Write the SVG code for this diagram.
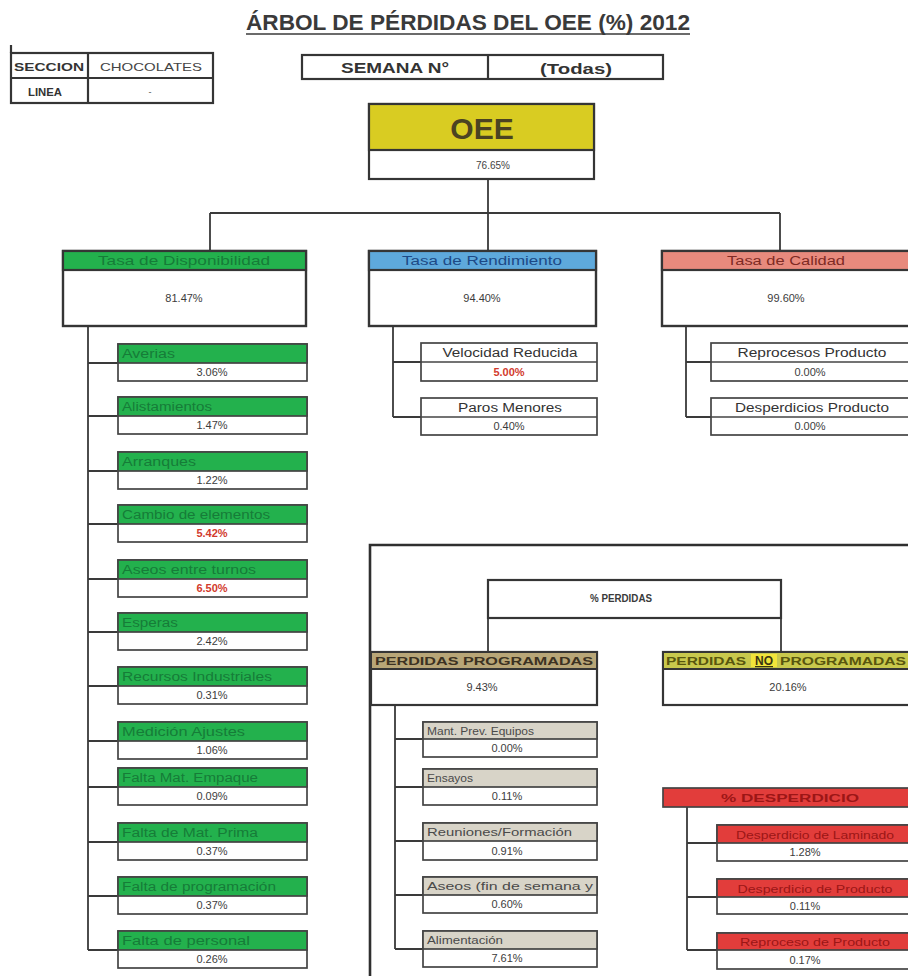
<svg xmlns="http://www.w3.org/2000/svg" width="908" height="976" viewBox="0 0 908 976">
<style>
  text { font-family: "Liberation Sans", Arial, sans-serif; }
  .frame { fill: none; stroke: #353535; stroke-width: 2.2; }
  .sub { fill: #fff; stroke: #444; stroke-width: 1.7; }
  .wire { fill: none; stroke: #3a3a3a; stroke-width: 1.8; }
  .val { font-size: 11px; fill: #3c3c3c; text-anchor: middle; }
  .valred { font-size: 11px; fill: #d23a2c; text-anchor: middle; font-weight: bold; }
  .g { fill: #23b14d; stroke: #444; stroke-width: 1.7; }
  .gt { font-size: 12px; fill: #167c38; }
  .b { fill: #5ea9dc; stroke: #353535; stroke-width: 2.2; }
  .s { fill: #e88a7d; stroke: #353535; stroke-width: 2.2; }
  .tan { fill: #b8a677; stroke: #353535; stroke-width: 2; }
  .yg { fill: #c8c84c; stroke: #353535; stroke-width: 2; }
  .gray { fill: #d8d4c8; stroke: #444; stroke-width: 1.7; }
  .rd { fill: #e23d3b; stroke: #444; stroke-width: 1.7; }
  .rt { font-size: 11px; fill: #9c1616; text-anchor: middle; }
  .pt { font-size: 11px; fill: #4a4a4a; }
  .ct { font-size: 12px; fill: #333; text-anchor: middle; }
</style>

<!-- heading -->
<g id="title">
  <text x="468" y="30" font-size="22" font-weight="bold" fill="#3a3a3a" text-anchor="middle" textLength="444" lengthAdjust="spacingAndGlyphs">ÁRBOL DE PÉRDIDAS DEL OEE (%) 2012</text>
  <line x1="246" y1="34" x2="690" y2="34" stroke="#3a3a3a" stroke-width="1.6"/>
</g>

<!-- section / line table -->
<g id="seccion">
  <rect x="11" y="53" width="202" height="50" class="frame"/>
  <line x1="11" y1="78" x2="213" y2="78" class="frame"/>
  <line x1="88" y1="53" x2="88" y2="103" class="frame"/>
  <line x1="11" y1="45" x2="11" y2="53" class="frame"/>
  <text x="49" y="71" font-size="11" font-weight="bold" fill="#333" text-anchor="middle" textLength="70" lengthAdjust="spacingAndGlyphs">SECCION</text>
  <text x="151" y="71" font-size="11" fill="#444" text-anchor="middle" textLength="102" lengthAdjust="spacingAndGlyphs">CHOCOLATES</text>
  <text x="45" y="96" font-size="11" font-weight="bold" fill="#333" text-anchor="middle" textLength="34" lengthAdjust="spacingAndGlyphs">LINEA</text>
  <text x="150" y="95" font-size="9" fill="#555" text-anchor="middle">-</text>
</g>

<!-- week selector -->
<g id="semana">
  <rect x="302" y="55" width="361" height="24" class="frame"/>
  <line x1="488" y1="55" x2="488" y2="79" class="frame"/>
  <text x="395" y="73" font-size="14" font-weight="bold" fill="#333" text-anchor="middle" textLength="108" lengthAdjust="spacingAndGlyphs">SEMANA N°</text>
  <text x="576" y="74" font-size="15" font-weight="bold" fill="#333" text-anchor="middle" textLength="72" lengthAdjust="spacingAndGlyphs">(Todas)</text>
</g>

<!-- connectors -->
<g id="connectors">
  <path class="wire" d="M488 179 V213 M210 213 H780 M210 213 V251 M488 213 V251 M780 213 V251"/>
  <path class="wire" d="M88 326 V950 M88 363 H118 M88 416 H118 M88 471 H118 M88 524 H118 M88 579 H118 M88 632 H118 M88 686 H118 M88 741 H118 M88 787 H118 M88 842 H118 M88 896 H118 M88 950 H118"/>
  <path class="wire" d="M393 326 V417 M393 362 H421 M393 417 H421"/>
  <path class="wire" d="M686 327 V417 M686 362 H711 M686 417 H711"/>
  <path class="wire" d="M488 618 V652 M781 618 V652"/>
  <path class="wire" d="M395 705 V949 M395 739 H423 M395 787 H423 M395 841 H423 M395 895 H423 M395 949 H423"/>
  <path class="wire" d="M687 807 V950 M687 843 H717 M687 897 H717 M687 950 H717"/>
</g>

<!-- OEE -->
<g id="oee">
  <rect x="369" y="104" width="225" height="75" fill="#fff" stroke="#353535" stroke-width="2.2"/>
  <rect x="369" y="104" width="225" height="46" fill="#d9cc22" stroke="#353535" stroke-width="2.2"/>
  <text x="482" y="139" font-size="30" font-weight="bold" fill="#4b4322" text-anchor="middle">OEE</text>
  <text x="493" y="169" font-size="10" fill="#444" text-anchor="middle">76.65%</text>
</g>

<!-- level 2 -->
<g id="disponibilidad">
  <rect x="63" y="251" width="243" height="75" fill="#fff" stroke="#353535" stroke-width="2.4"/>
  <rect x="63" y="251" width="243" height="19" fill="#23b14d" stroke="#353535" stroke-width="2.2"/>
  <text x="184" y="265" class="gt" text-anchor="middle" textLength="172" lengthAdjust="spacingAndGlyphs">Tasa de Disponibilidad</text>
  <text x="184" y="302" class="val">81.47%</text>
</g>
<g id="rendimiento">
  <rect x="369" y="251" width="227" height="75" fill="#fff" stroke="#353535" stroke-width="2.4"/>
  <rect x="369" y="251" width="227" height="19" class="b"/>
  <text x="482" y="265" font-size="12" fill="#1d4a86" text-anchor="middle" textLength="160" lengthAdjust="spacingAndGlyphs">Tasa de Rendimiento</text>
  <text x="482" y="302" class="val">94.40%</text>
</g>
<g id="calidad">
  <rect x="662" y="251" width="252" height="75" fill="#fff" stroke="#353535" stroke-width="2.4"/>
  <rect x="662" y="251" width="252" height="19" class="s"/>
  <text x="786" y="265" font-size="12" fill="#7e2a24" text-anchor="middle" textLength="118" lengthAdjust="spacingAndGlyphs">Tasa de Calidad</text>
  <text x="786" y="302" class="val">99.60%</text>
</g>

<!-- availability losses -->
<g id="averias"><rect x="118" y="344" width="189" height="37" class="sub"/><rect x="118" y="344" width="189" height="19" class="g"/><text x="122" y="358" class="gt" textLength="53" lengthAdjust="spacingAndGlyphs">Averias</text><text x="212" y="376" class="val">3.06%</text></g>
<g id="alistamientos"><rect x="118" y="397" width="189" height="37" class="sub"/><rect x="118" y="397" width="189" height="19" class="g"/><text x="122" y="411" class="gt" textLength="90" lengthAdjust="spacingAndGlyphs">Alistamientos</text><text x="212" y="429" class="val">1.47%</text></g>
<g id="arranques"><rect x="118" y="452" width="189" height="37" class="sub"/><rect x="118" y="452" width="189" height="19" class="g"/><text x="122" y="466" class="gt" textLength="74" lengthAdjust="spacingAndGlyphs">Arranques</text><text x="212" y="484" class="val">1.22%</text></g>
<g id="cambio"><rect x="118" y="505" width="189" height="37" class="sub"/><rect x="118" y="505" width="189" height="19" class="g"/><text x="122" y="519" class="gt" textLength="148" lengthAdjust="spacingAndGlyphs">Cambio de elementos</text><text x="212" y="537" class="valred">5.42%</text></g>
<g id="aseos-turnos"><rect x="118" y="560" width="189" height="37" class="sub"/><rect x="118" y="560" width="189" height="19" class="g"/><text x="122" y="574" class="gt" textLength="134" lengthAdjust="spacingAndGlyphs">Aseos entre turnos</text><text x="212" y="592" class="valred">6.50%</text></g>
<g id="esperas"><rect x="118" y="613" width="189" height="37" class="sub"/><rect x="118" y="613" width="189" height="19" class="g"/><text x="122" y="627" class="gt" textLength="56" lengthAdjust="spacingAndGlyphs">Esperas</text><text x="212" y="645" class="val">2.42%</text></g>
<g id="recursos"><rect x="118" y="667" width="189" height="37" class="sub"/><rect x="118" y="667" width="189" height="19" class="g"/><text x="122" y="681" class="gt" textLength="150" lengthAdjust="spacingAndGlyphs">Recursos Industriales</text><text x="212" y="699" class="val">0.31%</text></g>
<g id="medicion"><rect x="118" y="722" width="189" height="37" class="sub"/><rect x="118" y="722" width="189" height="19" class="g"/><text x="122" y="736" class="gt" textLength="123" lengthAdjust="spacingAndGlyphs">Medición Ajustes</text><text x="212" y="754" class="val">1.06%</text></g>
<g id="empaque"><rect x="118" y="768" width="189" height="37" class="sub"/><rect x="118" y="768" width="189" height="19" class="g"/><text x="122" y="782" class="gt" textLength="136" lengthAdjust="spacingAndGlyphs">Falta Mat. Empaque</text><text x="212" y="800" class="val">0.09%</text></g>
<g id="materia-prima"><rect x="118" y="823" width="189" height="37" class="sub"/><rect x="118" y="823" width="189" height="19" class="g"/><text x="122" y="837" class="gt" textLength="136" lengthAdjust="spacingAndGlyphs">Falta de Mat. Prima</text><text x="212" y="855" class="val">0.37%</text></g>
<g id="programacion"><rect x="118" y="877" width="189" height="37" class="sub"/><rect x="118" y="877" width="189" height="19" class="g"/><text x="122" y="891" class="gt" textLength="154" lengthAdjust="spacingAndGlyphs">Falta de programación</text><text x="212" y="909" class="val">0.37%</text></g>
<g id="personal"><rect x="118" y="931" width="189" height="37" class="sub"/><rect x="118" y="931" width="189" height="19" class="g"/><text x="122" y="945" class="gt" textLength="128" lengthAdjust="spacingAndGlyphs">Falta de personal</text><text x="212" y="963" class="val">0.26%</text></g>

<!-- performance losses -->
<g id="velocidad"><rect x="421" y="343" width="176" height="38" class="sub"/><line x1="421" y1="362" x2="597" y2="362" stroke="#444" stroke-width="1.7"/><text x="510" y="357" class="ct" textLength="135" lengthAdjust="spacingAndGlyphs">Velocidad Reducida</text><text x="509" y="376" class="valred">5.00%</text></g>
<g id="paros"><rect x="421" y="398" width="176" height="37" class="sub"/><line x1="421" y1="417" x2="597" y2="417" stroke="#444" stroke-width="1.7"/><text x="510" y="412" class="ct" textLength="104" lengthAdjust="spacingAndGlyphs">Paros Menores</text><text x="509" y="430" class="val">0.40%</text></g>

<!-- quality losses -->
<g id="reprocesos"><rect x="711" y="343" width="200" height="38" class="sub"/><line x1="711" y1="362" x2="908" y2="362" stroke="#444" stroke-width="1.7"/><text x="812" y="357" class="ct" textLength="149" lengthAdjust="spacingAndGlyphs">Reprocesos Producto</text><text x="810" y="376" class="val">0.00%</text></g>
<g id="desperdicios"><rect x="711" y="398" width="200" height="37" class="sub"/><line x1="711" y1="417" x2="908" y2="417" stroke="#444" stroke-width="1.7"/><text x="812" y="412" class="ct" textLength="154" lengthAdjust="spacingAndGlyphs">Desperdicios Producto</text><text x="810" y="430" class="val">0.00%</text></g>

<!-- losses panel -->
<g id="panel-perdidas">
  <path d="M370 976 V545 H908" fill="none" stroke="#2f2f2f" stroke-width="2.6"/>
</g>
<g id="perdidas">
  <rect x="488" y="580" width="293" height="38" class="frame"/>
  <text x="621" y="602" font-size="10" font-weight="bold" fill="#3a3a3a" text-anchor="middle" textLength="62" lengthAdjust="spacingAndGlyphs">% PERDIDAS</text>
</g>
<g id="programadas">
  <rect x="371" y="652" width="226" height="53" fill="#fff" stroke="#353535" stroke-width="2.2"/>
  <rect x="371" y="652" width="226" height="17" class="tan"/>
  <text x="484" y="665" font-size="11" font-weight="bold" fill="#3c3222" text-anchor="middle" textLength="218" lengthAdjust="spacingAndGlyphs">PERDIDAS PROGRAMADAS</text>
  <text x="482" y="691" class="val">9.43%</text>
</g>
<g id="no-programadas">
  <rect x="663" y="652" width="252" height="53" fill="#fff" stroke="#353535" stroke-width="2.2"/>
  <rect x="663" y="652" width="252" height="17" class="yg"/>
  <rect x="751" y="654" width="26" height="13" fill="#f2e43a"/>
  <text x="666" y="665" font-size="11" font-weight="bold" fill="#58560e" textLength="80" lengthAdjust="spacingAndGlyphs">PERDIDAS</text>
  <text x="764" y="665" font-size="12" font-weight="bold" fill="#3a3410" text-anchor="middle" text-decoration="underline">NO</text>
  <text x="780" y="665" font-size="11" font-weight="bold" fill="#58560e" textLength="126" lengthAdjust="spacingAndGlyphs">PROGRAMADAS</text>
  <text x="788" y="691" class="val">20.16%</text>
</g>

<!-- scheduled losses -->
<g id="mant-prev"><rect x="423" y="722" width="174" height="35" class="sub"/><rect x="423" y="722" width="174" height="17" class="gray"/><text x="427" y="735" class="pt" textLength="107" lengthAdjust="spacingAndGlyphs">Mant. Prev. Equipos</text><text x="507" y="752" class="val">0.00%</text></g>
<g id="ensayos"><rect x="423" y="769" width="174" height="36" class="sub"/><rect x="423" y="769" width="174" height="18" class="gray"/><text x="427" y="782" class="pt" textLength="46" lengthAdjust="spacingAndGlyphs">Ensayos</text><text x="507" y="800" class="val">0.11%</text></g>
<g id="reuniones"><rect x="423" y="823" width="174" height="37" class="sub"/><rect x="423" y="823" width="174" height="18" class="gray"/><text x="427" y="836" class="pt" textLength="145" lengthAdjust="spacingAndGlyphs">Reuniones/Formación</text><text x="507" y="855" class="val">0.91%</text></g>
<g id="aseos-semana"><rect x="423" y="877" width="174" height="36" class="sub"/><rect x="423" y="877" width="174" height="18" class="gray"/><text x="427" y="890" class="pt" textLength="166" lengthAdjust="spacingAndGlyphs">Aseos (fin de semana y</text><text x="507" y="908" class="val">0.60%</text></g>
<g id="alimentacion"><rect x="423" y="931" width="174" height="36" class="sub"/><rect x="423" y="931" width="174" height="18" class="gray"/><text x="427" y="944" class="pt" textLength="76" lengthAdjust="spacingAndGlyphs">Alimentación</text><text x="507" y="962" class="val">7.61%</text></g>

<!-- unscheduled: waste -->
<g id="desperdicio">
  <rect x="663" y="788" width="252" height="19" class="rd"/>
  <text x="790" y="802" class="rt" font-weight="bold" textLength="138" lengthAdjust="spacingAndGlyphs">% DESPERDICIO</text>
</g>
<g id="laminado"><rect x="717" y="825" width="196" height="36" class="sub"/><rect x="717" y="825" width="196" height="18" class="rd"/><text x="815" y="839" class="rt" textLength="158" lengthAdjust="spacingAndGlyphs">Desperdicio de Laminado</text><text x="805" y="856" class="val">1.28%</text></g>
<g id="producto"><rect x="717" y="879" width="196" height="35" class="sub"/><rect x="717" y="879" width="196" height="18" class="rd"/><text x="815" y="893" class="rt" textLength="155" lengthAdjust="spacingAndGlyphs">Desperdicio de Producto</text><text x="805" y="910" class="val">0.11%</text></g>
<g id="reproceso"><rect x="717" y="933" width="196" height="36" class="sub"/><rect x="717" y="933" width="196" height="17" class="rd"/><text x="815" y="946" class="rt" textLength="150" lengthAdjust="spacingAndGlyphs">Reproceso de Producto</text><text x="805" y="964" class="val">0.17%</text></g>
</svg>
